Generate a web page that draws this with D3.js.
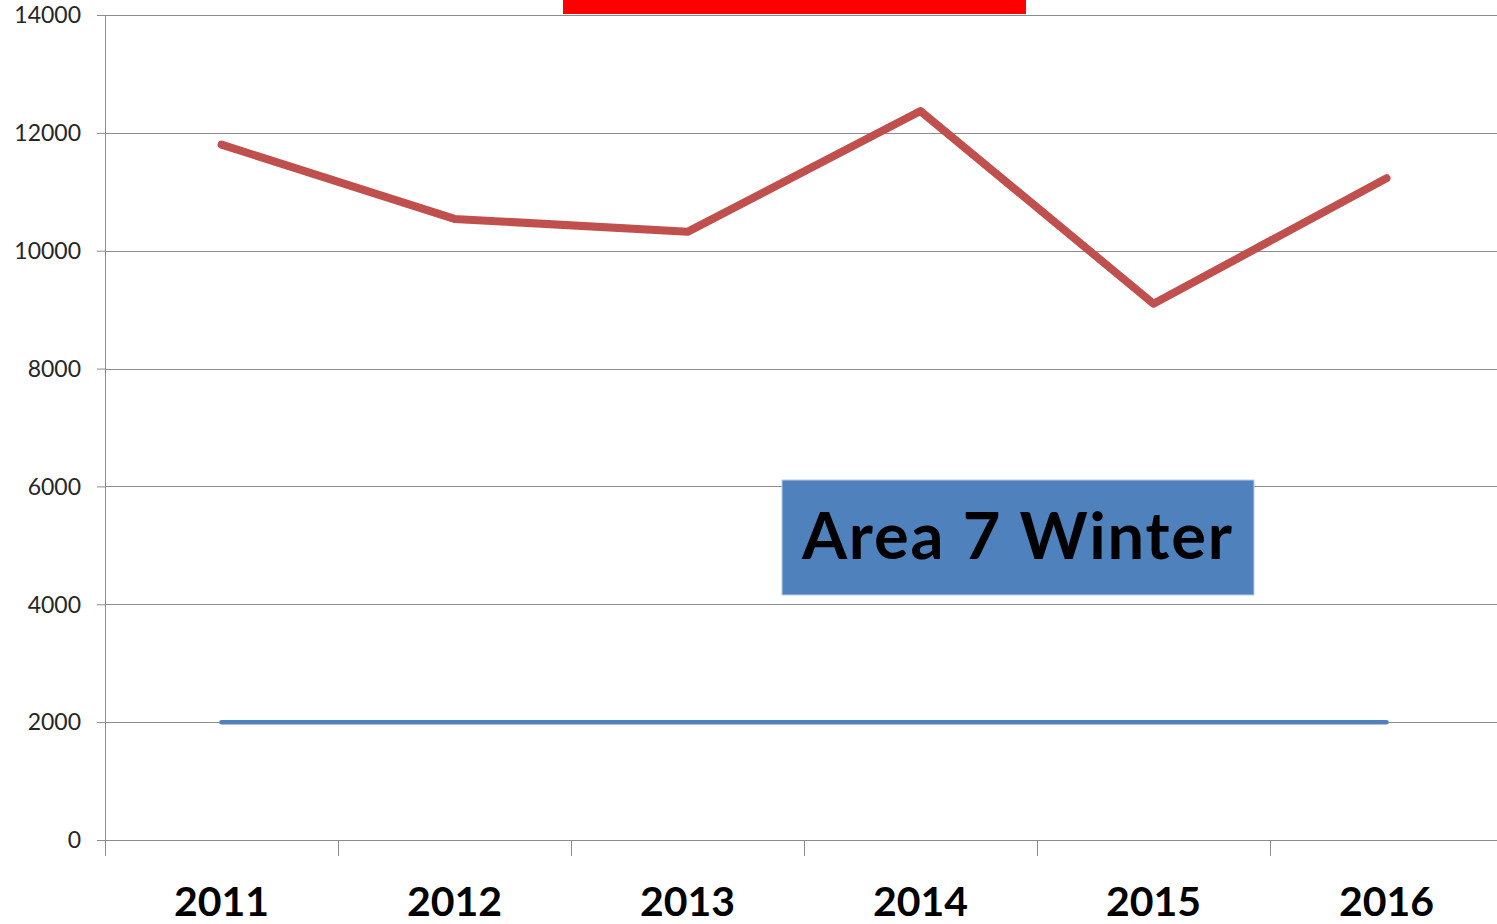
<!DOCTYPE html>
<html>
<head>
<meta charset="utf-8">
<script src="https://cdn.jsdelivr.net/npm/d3@7.9.0/dist/d3.min.js"></script>
<style>
  body { margin: 0; background: #fff; overflow: hidden; }
  svg { display: block; font-family: Lato, "Open Sans", sans-serif; }
</style>
</head>
<body>
<div id="chart"></div>
<script>
// Chart data
const years = ['2011', '2012', '2013', '2014', '2015', '2016'];
const winterCounts = [11800, 10540, 10320, 12370, 9100, 11230];
const targetLevel = [2000, 2000, 2000, 2000, 2000, 2000];
const yTicks = [0, 2000, 4000, 6000, 8000, 10000, 12000, 14000];
const boxLabel = 'Area 7 Winter';

const width = 1497;
const height = 924;
const margin = { top: 15, right: -6, bottom: 84, left: 105 };

const svg = d3.select('#chart')
  .append('svg')
  .attr('width', width)
  .attr('height', height);

const xScale = d3.scaleBand()
  .domain(years)
  .range([margin.left, width - margin.right]);

const yScale = d3.scaleLinear()
  .domain([0, 14000])
  .range([height - margin.bottom, margin.top]);

// Horizontal gridlines + y labels
const yAxis = svg.append('g')
  .attr('transform', `translate(${margin.left},0)`)
  .call(d3.axisLeft(yScale).tickValues(yTicks).tickSize(8).tickPadding(16).tickFormat(d3.format('d')))
  .attr('font-family', null)
  .attr('font-size', null);
yAxis.select('.domain').remove();
yAxis.selectAll('.tick line').attr('stroke', '#8c8c8c');
yAxis.selectAll('.tick text')
  .attr('fill', '#262626')
  .style('font-size', '23px')
  .attr('dy', '0.34em');

svg.append('g')
  .selectAll('line')
  .data(yTicks)
  .join('line')
  .attr('x1', margin.left)
  .attr('x2', width)
  .attr('y1', d => Math.round(yScale(d)) + 0.5)
  .attr('y2', d => Math.round(yScale(d)) + 0.5)
  .attr('stroke', '#8c8c8c')
  .attr('stroke-width', 1);

// Vertical axis line, extends slightly below zero
svg.append('line')
  .attr('x1', margin.left + 0.5)
  .attr('x2', margin.left + 0.5)
  .attr('y1', yScale(14000))
  .attr('y2', yScale(0) + 16)
  .attr('stroke', '#8c8c8c');

// Category boundary ticks
svg.append('g')
  .selectAll('line')
  .data(years)
  .join('line')
  .attr('x1', d => Math.round(xScale(d)) + 0.5)
  .attr('x2', d => Math.round(xScale(d)) + 0.5)
  .attr('y1', yScale(0))
  .attr('y2', yScale(0) + 16)
  .attr('stroke', '#8c8c8c');

// Year labels
svg.append('g')
  .selectAll('text')
  .data(years)
  .join('text')
  .attr('x', d => xScale(d) + xScale.bandwidth() / 2)
  .attr('y', 916)
  .attr('text-anchor', 'middle')
  .attr('fill', '#000')
  .style('font-size', '41px')
  .style('font-weight', 'bold')
  .text(d => d);

const cx = d => xScale(d) + xScale.bandwidth() / 2;

// Blue reference line
svg.append('path')
  .datum(years.map((y, i) => [y, targetLevel[i]]))
  .attr('fill', 'none')
  .attr('stroke', '#4f81bd')
  .attr('stroke-width', 4.5)
  .attr('stroke-linecap', 'round')
  .attr('d', d3.line().x(d => cx(d[0])).y(d => yScale(d[1])));

// Red series line
svg.append('path')
  .datum(years.map((y, i) => [y, winterCounts[i]]))
  .attr('fill', 'none')
  .attr('stroke', '#c0504d')
  .attr('stroke-width', 8)
  .attr('stroke-linecap', 'round')
  .attr('stroke-linejoin', 'round')
  .attr('d', d3.line().x(d => cx(d[0])).y(d => yScale(d[1])));

// Red title bar (clipped at top)
svg.append('rect')
  .attr('x', 563)
  .attr('y', 0)
  .attr('width', 463)
  .attr('height', 14)
  .attr('fill', '#ff0000');

// Label box
svg.append('rect')
  .attr('x', 782)
  .attr('y', 480)
  .attr('width', 472)
  .attr('height', 115)
  .attr('fill', '#4f81bd')
  .attr('stroke', '#b9cde5')
  .attr('stroke-width', 1);

svg.append('text')
  .attr('x', 802)
  .attr('y', 559)
  .attr('textLength', 430)
  .attr('lengthAdjust', 'spacing')
  .attr('fill', '#000')
  .style('font-size', '65px')
  .style('font-weight', 'bold')
  .text(boxLabel);
</script>
</body>
</html>
